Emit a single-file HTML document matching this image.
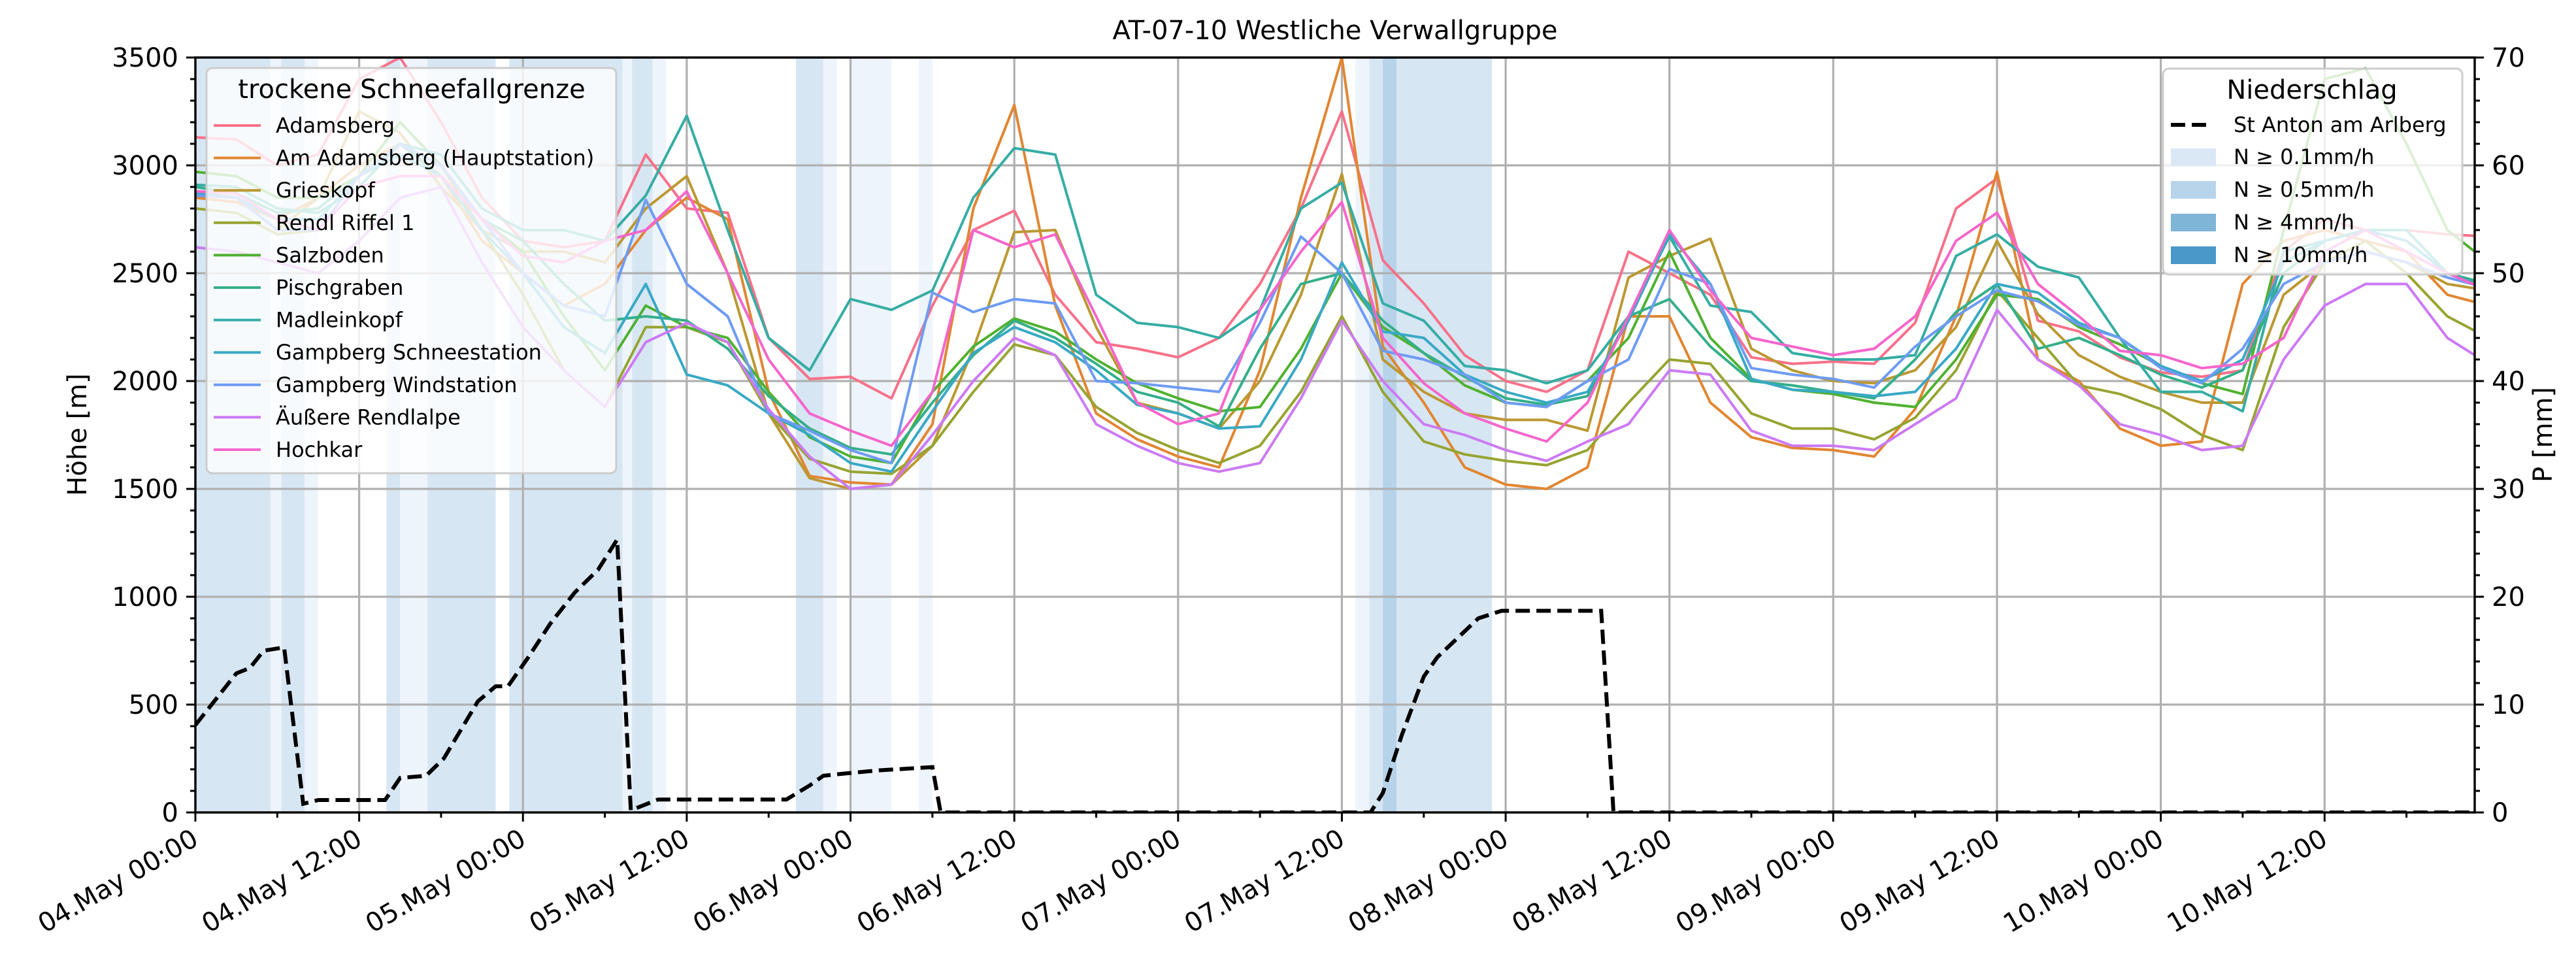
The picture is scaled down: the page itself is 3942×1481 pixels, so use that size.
<!DOCTYPE html>
<html><head><meta charset="utf-8"><style>
html,body{margin:0;padding:0;background:#fff;}
svg{display:block;font-family:"DejaVu Sans","Liberation Sans",sans-serif;}
</style></head><body>
<svg id="chart" width="3942" height="1481" viewBox="0 0 3942 1481" xmlns="http://www.w3.org/2000/svg">
<defs><clipPath id="plotclip"><rect x="299" y="88" width="3488" height="1155"/></clipPath></defs>
<g id="bands" clip-path="url(#plotclip)"></g>
<g id="grid"></g>
<g id="series" clip-path="url(#plotclip)"></g>
<g id="axes"></g>
<text x="2043" y="60" font-size="40" text-anchor="middle">AT-07-10 Westliche Verwallgruppe</text>
<text x="0" y="0" font-size="40" text-anchor="middle" transform="translate(132,665) rotate(-90)">Höhe [m]</text>
<text x="0" y="0" font-size="40" text-anchor="middle" transform="translate(3905,665) rotate(-90)">P [mm]</text>
<g id="legend-left"></g>
<g id="legend-right"></g>
</svg>
<script>
const hours = [0,3,6,9,12,15,18,21,24,27,30,33,36,39,42,45,48,51,54,57,60,63,66,69,72,75,78,81,84,87,90,93,96,99,102,105,108,111,114,117,120,123,126,129,132,135,138,141,144,147,150,153,156,159,162,165,168];
const seriesNames = ["Adamsberg","Am Adamsberg (Hauptstation)","Grieskopf","Rendl Riffel 1","Salzboden","Pischgraben","Madleinkopf","Gampberg Schneestation","Gampberg Windstation","Äußere Rendlalpe","Hochkar"];
const adamsberg = [3130,3120,3000,3050,3400,3500,3200,2850,2650,2620,2650,3050,2800,2780,2200,2010,2020,1920,2350,2700,2790,2400,2180,2150,2110,2200,2450,2800,3250,2560,2360,2120,2000,1950,2050,2600,2500,2400,2110,2080,2090,2080,2270,2800,2940,2280,2230,2110,2040,2020,2050,2600,2750,2700,2700,2680,2670];
const amAdamsberg = [2850,2830,2750,2850,3000,3100,2950,2650,2500,2350,2450,2700,2850,2750,1950,1560,1530,1520,1800,2800,3280,2350,1850,1730,1650,1600,2050,2850,3500,2160,1900,1600,1520,1500,1600,2300,2300,1900,1740,1690,1680,1650,1870,2300,2970,2100,2000,1780,1700,1720,2450,2650,2700,2650,2600,2400,2350];
const grieskopf = [2880,2850,2700,2850,3250,3150,2900,2700,2600,2600,2550,2800,2950,2500,1850,1550,1500,1520,1700,2150,2690,2700,2250,1900,1850,1780,2000,2400,2960,2100,1950,1850,1820,1820,1770,2480,2580,2660,2150,2050,2000,1990,2050,2250,2650,2310,2120,2020,1950,1900,1900,2400,2550,2600,2550,2450,2420];
const rendlRiffel = [2800,2780,2680,2700,2950,3100,3000,2700,2400,2050,1880,2250,2250,2180,1850,1640,1580,1570,1700,1950,2170,2120,1880,1760,1680,1620,1700,1950,2300,1950,1720,1660,1630,1610,1680,1900,2100,2080,1850,1780,1780,1730,1830,2050,2420,2200,1980,1940,1870,1750,1680,2250,2550,2650,2500,2300,2200];
const salzboden = [2970,2950,2850,2850,2950,3200,3000,2750,2600,2300,2050,2350,2250,2200,1950,1740,1650,1620,1950,2160,2290,2230,2100,1990,1920,1860,1880,2150,2500,2250,2130,1980,1900,1880,2000,2200,2600,2200,2010,1960,1940,1900,1880,2100,2400,2380,2250,2170,2070,1990,1940,2700,3400,3450,3100,2700,2550];
const pischgraben = [2900,2870,2780,2800,2950,3100,2950,2750,2650,2450,2280,2300,2280,2150,1930,1780,1690,1660,1900,2120,2280,2200,2080,1950,1900,1790,2150,2450,2500,2280,2130,2020,1920,1890,1930,2300,2380,2160,2000,1980,1950,1920,2100,2320,2450,2150,2200,2120,2030,1970,2050,2500,2650,2700,2600,2500,2450];
const madleinkopf = [2910,2900,2800,2780,2900,3100,3050,2800,2700,2700,2650,2860,3230,2700,2200,2050,2380,2330,2420,2850,3080,3050,2400,2270,2250,2200,2330,2800,2920,2360,2280,2070,2050,1990,2050,2300,2670,2350,2320,2130,2100,2100,2120,2580,2680,2530,2480,2200,1950,1950,1860,2600,2650,2700,2700,2500,2440];
const gampbergSchnee = [2870,2850,2750,2750,2950,3050,2950,2700,2500,2250,2130,2450,2030,1980,1850,1750,1620,1580,1860,2130,2250,2180,2050,1890,1850,1780,1790,2100,2550,2230,2200,2030,1950,1900,1950,2280,2680,2450,2010,1960,1950,1930,1950,2150,2450,2410,2270,2200,2070,2000,2100,2550,2650,2700,2650,2500,2420];
const gampbergWind = [2860,2850,2700,2700,2950,3100,3000,2750,2500,2350,2300,2840,2450,2300,1850,1770,1680,1620,2410,2320,2380,2360,2000,1990,1970,1950,2270,2670,2500,2140,2100,2030,1900,1880,2000,2100,2520,2450,2060,2030,2010,1970,2160,2300,2420,2370,2260,2200,2060,1990,2150,2450,2550,2600,2550,2480,2430];
const aeussereRendlalpe = [2620,2600,2550,2500,2650,2850,2900,2550,2250,2050,1880,2180,2270,2180,1870,1650,1500,1520,1750,2000,2200,2120,1800,1700,1620,1580,1620,1920,2280,2000,1800,1750,1680,1630,1720,1800,2050,2030,1770,1700,1700,1680,1800,1920,2330,2100,1980,1800,1750,1680,1700,2100,2350,2450,2450,2200,2080];
const hochkar = [2880,2870,2750,2700,2900,2950,2950,2750,2580,2550,2650,2700,2880,2500,2100,1850,1770,1700,1950,2700,2620,2680,2300,1900,1800,1850,2330,2600,2830,2200,1990,1850,1780,1720,1900,2300,2700,2420,2200,2160,2120,2150,2300,2650,2780,2450,2300,2140,2120,2060,2080,2200,2600,2700,2600,2500,2420];
const precipHours = [0,3,4,5,6.5,7.9,9,13.9,15,16.9,18.2,20.7,22,22.9,24.4,26,27.8,29.5,30.9,31.9,33.9,43.3,45,46,47.5,50,54,54.6,86.1,87,88.4,90,91,94,95.7,103,103.9,168];
const precipValues = [8.1,12.9,13.4,15,15.3,0.8,1.15,1.15,3.2,3.4,5,10.3,11.7,11.7,14.4,17.5,20.4,22.5,25.3,0.2,1.2,1.2,2.5,3.4,3.6,3.9,4.2,0,0,1.8,7.2,12.6,14.4,18,18.7,18.7,0,0];
const bandStarts = [0,5.5,6.3,8,14,15,17,23,31.3,32,33.5,44,46,48,53,85,86,87,88];
const bandEnds   = [5.5,6.3,8,9,15,17,22,31.3,32,33.5,34.5,46,47,51,54,86,87,88,95];
const bandLevels = [1,0,1,0,1,0,1,1,0,1,0,1,0,0,0,0,1,2,1];
const yTicks = [0,500,1000,1500,2000,2500,3000,3500];
const y2Ticks = [0,10,20,30,40,50,60,70];
const xTickLabels = ["04.May 00:00","04.May 12:00","05.May 00:00","05.May 12:00","06.May 00:00","06.May 12:00","07.May 00:00","07.May 12:00","08.May 00:00","08.May 12:00","09.May 00:00","09.May 12:00","10.May 00:00","10.May 12:00"];

const allSeries=[adamsberg,amAdamsberg,grieskopf,rendlRiffel,salzboden,pischgraben,madleinkopf,gampbergSchnee,gampbergWind,aeussereRendlalpe,hochkar];
const colors=["#f77189","#e18632","#bb9832","#97a431","#50b131","#34af8a","#36ada4","#38a9c5","#6e9bf4","#cc7af4","#f565cc"];
const bandColors=["#eef4fb","#d7e6f3","#b6d3e9"];
const X0=299,X1=3787,Y0=88,Y1=1243,HMAX=167;
const xs=h=>X0+(h/HMAX)*(X1-X0);
const ys=v=>Y1-(v/3500)*(Y1-Y0);
const ys2=v=>Y1-(v/70)*(Y1-Y0);
const NS="http://www.w3.org/2000/svg";
function mk(tag,attrs,parent){const e=document.createElementNS(NS,tag);for(const k in attrs)e.setAttribute(k,attrs[k]);parent.appendChild(e);return e;}
const gB=document.getElementById('bands'),gG=document.getElementById('grid'),gS=document.getElementById('series'),gA=document.getElementById('axes');

bandStarts.forEach((s,i)=>{
  const r=mk('rect',{x:xs(s),y:Y0,width:xs(bandEnds[i])-xs(s),height:Y1-Y0,fill:bandColors[bandLevels[i]]},gB);
  
  
});
yTicks.forEach(v=>{const l=mk('line',{x1:X0,x2:X1,y1:ys(v),y2:ys(v),stroke:'#b0b0b0','stroke-width':3.2},gG);
  });
xTickLabels.forEach((t,i)=>{const x=xs(i*12);const l=mk('line',{x1:x,x2:x,y1:Y0,y2:Y1,stroke:'#b0b0b0','stroke-width':3.2},gG);
  });
allSeries.forEach((arr,si)=>{
  const d=arr.map((v,i)=>(i?'L':'M')+xs(hours[i]).toFixed(1)+','+ys(v).toFixed(1)).join('');
  const p=mk('path',{d:d,fill:'none',stroke:colors[si],'stroke-width':4,'stroke-linejoin':'round'},gS);
  
  
});
{
  const d=precipValues.map((v,i)=>(i?'L':'M')+xs(precipHours[i]).toFixed(1)+','+ys2(v).toFixed(1)).join('');
  const p=mk('path',{d:d,fill:'none',stroke:'#000','stroke-width':6,'stroke-dasharray':'22,10'},gS);
  
  
}
mk('rect',{x:X0,y:Y0,width:X1-X0,height:Y1-Y0,fill:'none',stroke:'#000','stroke-width':3.4},gA);
for(let v=0;v<=3500;v+=100){const major=v%500===0;mk('line',{x1:X0,x2:X0-(major?14:8),y1:ys(v),y2:ys(v),stroke:'#000','stroke-width':3},gA);}
yTicks.forEach(v=>{const t=mk('text',{x:X0-26,y:ys(v)+14,'font-size':40,'text-anchor':'end'},gA);t.textContent=v;
  });
for(let v=0;v<=70;v+=2){const major=v%10===0;mk('line',{x1:X1,x2:X1+(major?14:8),y1:ys2(v),y2:ys2(v),stroke:'#000','stroke-width':3},gA);}
y2Ticks.forEach(v=>{const t=mk('text',{x:X1+26,y:ys2(v)+14,'font-size':40,'text-anchor':'start'},gA);t.textContent=v;
  });
for(let h=0;h<=HMAX;h+=6){const major=h%12===0;mk('line',{x1:xs(h),x2:xs(h),y1:Y1,y2:Y1+(major?14:8),stroke:'#000','stroke-width':3},gA);}
xTickLabels.forEach((s,i)=>{const x=xs(i*12);
  const t=mk('text',{x:0,y:30,'font-size':40,'text-anchor':'end',transform:`translate(${x-8} ${Y1+22}) rotate(-30)`},gA);t.textContent=s;
  });

const gL=document.getElementById('legend-left');
mk('rect',{x:316,y:104,width:627,height:620,rx:9,fill:'rgba(255,255,255,0.8)',stroke:'#cccccc','stroke-width':3},gL);
{const t=mk('text',{x:630,y:150,'font-size':40,'text-anchor':'middle'},gL);t.textContent='trockene Schneefallgrenze';
 }
seriesNames.forEach((n,i)=>{const y=192+i*49.6;
  const l=mk('line',{x1:327,x2:399,y1:y,y2:y,stroke:colors[i],'stroke-width':4},gL);
  
  const t=mk('text',{x:422,y:y+11,'font-size':32},gL);t.textContent=n;
  });
const gR=document.getElementById('legend-right');
mk('rect',{x:3310,y:105,width:458,height:315,rx:9,fill:'rgba(255,255,255,0.8)',stroke:'#cccccc','stroke-width':3},gR);
{const t=mk('text',{x:3538,y:151,'font-size':40,'text-anchor':'middle'},gR);t.textContent='Niederschlag';
 }
{const l=mk('line',{x1:3322,x2:3382,y1:191,y2:191,stroke:'#000','stroke-width':6,'stroke-dasharray':'22,10'},gR);
 
 const t=mk('text',{x:3418,y:202,'font-size':32},gR);t.textContent='St Anton am Arlberg';
 }
const patchCols=["#dae8f5","#b7d4ea","#7fb5d6","#4a98c9"],patchLabels=["N ≥ 0.1mm/h","N ≥ 0.5mm/h","N ≥ 4mm/h","N ≥ 10mm/h"];
patchLabels.forEach((s,i)=>{const y=240+i*50;
  const r=mk('rect',{x:3322,y:y-13,width:69,height:27,fill:patchCols[i]},gR);
  
  const t=mk('text',{x:3418,y:y+11,'font-size':32},gR);t.textContent=s;
  });
</script>
</body></html>
